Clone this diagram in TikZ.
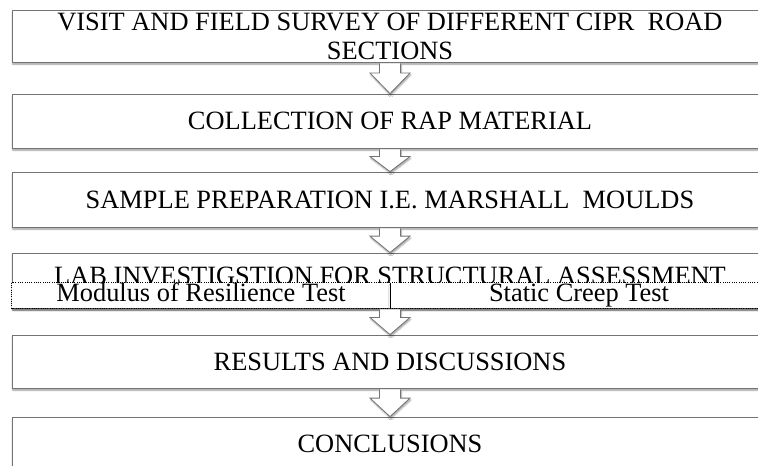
\documentclass[tikz,border=0pt]{standalone}
\usepackage{fontspec}
\setmainfont{Liberation Serif}
\usetikzlibrary{calc,positioning,shadows.blur}

\begin{document}
\begin{tikzpicture}[
  x=0.75pt,y=-0.75pt,
  every node/.style={font=\fontsize{19.8}{21.75}\selectfont},
  stepbox/.style={draw=black!55,line width=0.6pt,fill=white,inner sep=0pt,
    minimum width=567pt,align=center,
    blur shadow={shadow xshift=0.6pt,shadow yshift=-1.6pt,shadow blur radius=1.4pt}},
  cell/.style={fill=white,inner sep=0pt,minimum width=283.5pt,minimum height=18.75pt,
    text height=14pt,text depth=4.25pt,
    blur shadow={shadow xshift=0.6pt,shadow yshift=-1.6pt,shadow blur radius=1.4pt}},
  rowline/.style={densely dotted,line width=0.7pt,black},
  arrowfill/.style={fill=white,
    blur shadow={shadow xshift=0.6pt,shadow yshift=-1.4pt,shadow blur radius=1.2pt}},
  arrowline/.style={draw=black!55,line width=0.6pt,line join=miter}
]
  \useasboundingbox (0,0) rectangle (758,466);
  \clip (0,0) rectangle (758,466);

  % Process steps (boxes run past the right edge)
  \node[stepbox,minimum height=39pt]    (box1) at (390,36)    {VISIT AND FIELD SURVEY OF DIFFERENT CIPR\ \ ROAD\\SECTIONS};
  \node[stepbox,minimum height=40.5pt]  (box2) at (390,121)   {COLLECTION OF RAP MATERIAL};
  \node[stepbox,minimum height=41.25pt] (box3) at (390,199.5) {SAMPLE PREPARATION I.E. MARSHALL\ \ MOULDS};
  \node[stepbox,minimum height=41.25pt] (box4) at (390,280.5) {};
  \node[stepbox,minimum height=39.75pt] (box5) at (390,361.5) {RESULTS AND DISCUSSIONS};
  \node[stepbox,minimum height=40.5pt]  (box6) at (390,444)   {CONCLUSIONS};

  % Lab investigation: title partly hidden by the test row
  \node[anchor=base,inner sep=0pt] (lab) at (390,284.5) {LAB INVESTIGSTION FOR STRUCTURAL\ ASSESSMENT};
  \node[cell] (mr) at (201,295.5) {Modulus of Resilience Test};
  \node[cell] (sc) at (579,295.5) {Static Creep Test};
  \draw[rowline] (mr.north west) rectangle (sc.south east);
  \draw[line width=0.7pt] (mr.north east) -- (mr.south east);

  % Block arrows between steps
  \foreach \a/\b in {box1/box2,box2/box3,box3/box4,box4/box5,box5/box6}{
    \coordinate (top) at ($(\a.south)+(0,1)$);
    \coordinate (tip) at (\b.north);
    \coordinate (mid) at ($(top)!0.32!(tip)$);
    \fill[arrowfill] ($(top)+(-10.5,0)$) -- ($(mid)+(-10.5,0)$) -- ($(mid)+(-20,0)$) -- (tip)
      -- ($(mid)+(20,0)$) -- ($(mid)+(10.5,0)$) -- ($(top)+(10.5,0)$) -- cycle;
    \draw[arrowline] ($(top)+(-10.5,0)$) -- ($(mid)+(-10.5,0)$) -- ($(mid)+(-20,0)$) -- (tip)
      -- ($(mid)+(20,0)$) -- ($(mid)+(10.5,0)$) -- ($(top)+(10.5,0)$);
  }
\end{tikzpicture}
\end{document}
